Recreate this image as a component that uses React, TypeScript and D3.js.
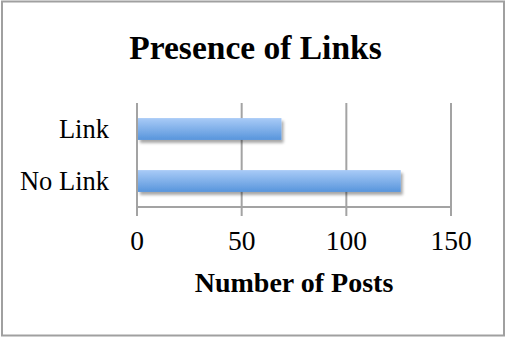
import React from 'react';
import * as d3 from 'd3';

// chart data
const categories = ['Link', 'No Link'];
const postCounts = [69, 126];
const xTicks = [0, 50, 100, 150];

const title = 'Presence of Links';
const xTitle = 'Number of Posts';

const App = () => {
  const width = 505;
  const height = 337;
  const margin = { top: 103, right: 54, bottom: 130, left: 137 };
  const font = '"Liberation Serif", "Times New Roman", serif';

  const xScale = d3.scaleLinear()
    .domain([0, 150])
    .range([margin.left, width - margin.right]);

  const yScale = d3.scaleBand()
    .domain(categories)
    .range([margin.top, height - margin.bottom])
    .paddingInner(0.58)
    .paddingOuter(0.29);

  const axisY = height - margin.bottom;
  const data = categories.map((c, i) => ({ name: c, value: postCounts[i] }));

  return (
    <svg width={width} height={height} style={{ position: 'absolute', left: 0, top: 0 }}>
      <defs>
        <linearGradient id="barFill" x1="0" y1="0" x2="0" y2="1">
          <stop offset="0%" stopColor="#a9cbf7" />
          <stop offset="100%" stopColor="#5895dc" />
        </linearGradient>
        <filter id="shadow" x="-10%" y="-40%" width="130%" height="200%">
          <feGaussianBlur in="SourceAlpha" stdDeviation="1.8" />
          <feOffset dx="2" dy="3" result="blur" />
          <feComponentTransfer>
            <feFuncA type="linear" slope="0.35" />
          </feComponentTransfer>
          <feMerge>
            <feMergeNode />
            <feMergeNode in="SourceGraphic" />
          </feMerge>
        </filter>
      </defs>

      {/* outer frame */}
      <rect x={2} y={1.5} width={width - 3} height={height - 3} fill="#fff" stroke="#a0a0a0" strokeWidth={2} />

      {/* title */}
      <text x={255.5} y={59} textAnchor="middle" fontFamily={font} fontWeight="bold" fontSize={33.5} fill="#000">
        {title}
      </text>

      {/* gridlines + ticks */}
      {xTicks.map(t => (
        <line key={t} x1={xScale(t)} x2={xScale(t)} y1={margin.top} y2={axisY + 9}
          stroke="#a3a3a3" strokeWidth={2} />
      ))}
      <line x1={xScale(0)} x2={xScale(150)} y1={axisY} y2={axisY} stroke="#a3a3a3" strokeWidth={2} />

      {/* bars */}
      {data.map(d => (
        <rect key={d.name}
          x={xScale(0) + 1}
          y={yScale(d.name)}
          width={xScale(d.value) - xScale(0) - 1}
          height={yScale.bandwidth()}
          fill="url(#barFill)"
          filter="url(#shadow)" />
      ))}

      {/* category labels */}
      {data.map(d => (
        <text key={d.name} x={109} y={(yScale(d.name) ?? 0) + yScale.bandwidth() / 2 + 9}
          textAnchor="end" fontFamily={font} fontSize={26.5} fill="#000">
          {d.name}
        </text>
      ))}

      {/* tick labels */}
      {xTicks.map(t => (
        <text key={t} x={xScale(t)} y={250} textAnchor="middle" fontFamily={font} fontSize={27.5} fill="#000">
          {t}
        </text>
      ))}

      {/* x axis title */}
      <text x={(xScale(0) + xScale(150)) / 2} y={292} textAnchor="middle" fontFamily={font}
        fontWeight="bold" fontSize={28} fill="#000">
        {xTitle}
      </text>
    </svg>
  );
};

export default App;
